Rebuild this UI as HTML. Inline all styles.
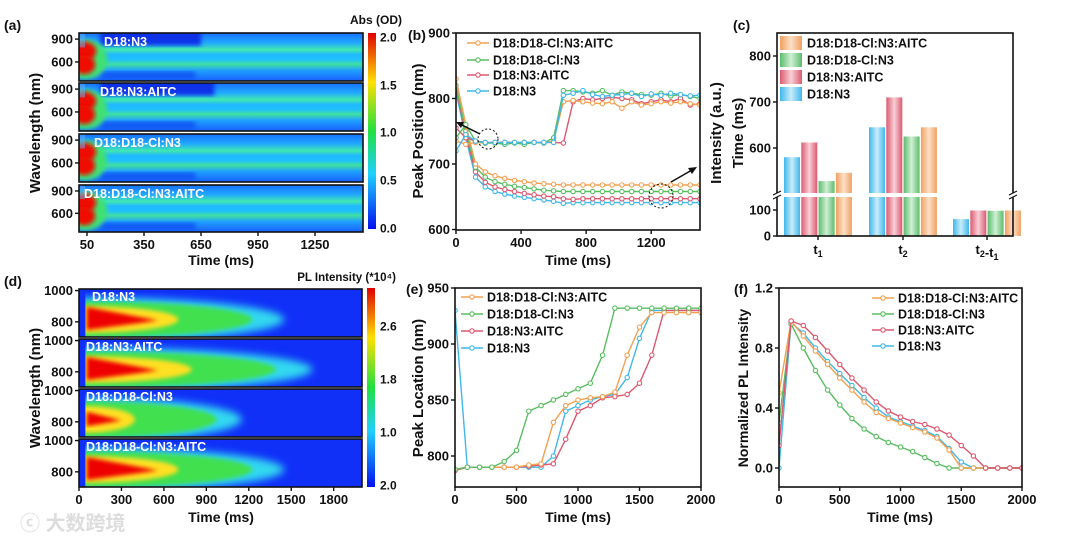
<!DOCTYPE html>
<html><head><meta charset="utf-8"><style>
html,body{margin:0;padding:0;background:#fff}
svg{display:block;font-family:"Liberation Sans",Arial,sans-serif;font-weight:bold}
</style></head><body>
<svg id="fig" width="1080" height="543" viewBox="0 0 1080 543" xmlns="http://www.w3.org/2000/svg">
<defs>
<linearGradient id="jet" x1="0" y1="0" x2="0" y2="1">
<stop offset="0" stop-color="#e00000"/><stop offset="0.25" stop-color="#ffe000"/><stop offset="0.5" stop-color="#20e040"/><stop offset="0.72" stop-color="#20d0ff"/><stop offset="1" stop-color="#0010f0"/></linearGradient>
<linearGradient id="absband" x1="0" y1="0" x2="0" y2="1">
<stop offset="0" stop-color="#1870ff"/><stop offset="0.2" stop-color="#20a8ff"/><stop offset="0.35" stop-color="#40e8b0"/><stop offset="0.45" stop-color="#20b8ff"/><stop offset="0.55" stop-color="#20c0ff"/><stop offset="0.65" stop-color="#40e0a0"/><stop offset="0.78" stop-color="#20a0ff"/><stop offset="1" stop-color="#1860ff"/></linearGradient>
<linearGradient id="barblue" x1="0" x2="1"><stop offset="0" stop-color="#40b8ec"/><stop offset="0.5" stop-color="#c8ecfa"/><stop offset="1" stop-color="#40b8ec"/></linearGradient>
<linearGradient id="barred" x1="0" x2="1"><stop offset="0" stop-color="#dc5a70"/><stop offset="0.5" stop-color="#f8d0d8"/><stop offset="1" stop-color="#dc5a70"/></linearGradient>
<linearGradient id="bargreen" x1="0" x2="1"><stop offset="0" stop-color="#5cbc6c"/><stop offset="0.5" stop-color="#d0f0d4"/><stop offset="1" stop-color="#5cbc6c"/></linearGradient>
<linearGradient id="barorange" x1="0" x2="1"><stop offset="0" stop-color="#f0a060"/><stop offset="0.5" stop-color="#fce0c8"/><stop offset="1" stop-color="#f0a060"/></linearGradient>
<filter id="blur2"><feGaussianBlur stdDeviation="2"/></filter>
<filter id="blur4"><feGaussianBlur stdDeviation="4"/></filter>
</defs>
<g id="root"></g>
<text x="20" y="530" font-size="20" fill="#ddd" style="font-family:'Liberation Sans','Noto Sans CJK SC',sans-serif">ⓒ 大数跨境</text>
</svg>
<script>
// ---------- data ----------
const bTimes=[0,60,120,180,240,300,360,420,480,540,600,660,720,780,840,900,960,1020,1080,1140,1200,1260,1320,1380,1440,1500];
const bUpN3=[720,745,735,733,733,733,733,733,733,733,733,805,808,812,806,803,805,806,808,803,807,805,808,806,804,805];
const bUpCl=[740,760,735,732,732,730,732,730,733,732,740,812,812,810,808,812,805,810,808,806,805,808,804,806,803,800];
const bUpClAITC=[735,730,733,732,733,733,733,733,733,732,735,795,797,795,793,792,795,785,795,790,792,795,793,795,792,790];
const bUpAITC=[755,740,735,733,733,733,733,733,733,733,733,732,795,800,798,800,802,800,798,792,795,798,795,800,790,792];
const bLoClAITC=[830,760,700,688,682,678,675,673,671,670,669,668,668,668,668,668,668,668,668,668,668,668,668,668,668,668];
const bLoCl=[820,750,695,680,673,669,666,664,662,660,659,658,658,658,658,658,658,658,658,658,658,658,658,658,658,658];
const bLoAITC=[815,745,688,672,665,661,658,655,653,651,650,647,646,647,647,647,647,647,647,647,647,647,647,647,647,647];
const bLoN3=[810,740,680,665,658,654,651,649,647,645,643,640,641,641,641,641,641,641,641,641,641,641,641,641,641,641];

const cCats=['t1','t2','t2-t1'];
const cN3=[580,645,65];
const cAITC=[612,710,98];
const cCl=[528,625,97];
const cClAITC=[546,645,98];

const eTimes=[0,100,200,300,400,500,600,700,800,900,1000,1100,1200,1300,1400,1500,1600,1700,1800,1900,2000];
const eClAITC=[788,790,790,790,790,790,792,793,830,845,850,852,853,857,890,915,928,928,928,928,928];
const eCl=[788,790,790,790,795,805,840,845,850,855,860,865,890,932,932,932,932,932,932,932,932];
const eAITC=[787,790,790,790,790,790,791,792,793,815,840,845,852,853,855,865,890,930,930,930,930];
const eN3=[930,790,790,790,790,790,790,790,800,840,845,850,853,855,870,905,930,930,930,930,930];

const fTimes=[0,100,200,300,400,500,600,700,800,900,1000,1100,1200,1300,1400,1500,1600,1700,1800,1900,2000];
const fClAITC=[0.5,0.98,0.88,0.78,0.69,0.6,0.52,0.44,0.37,0.33,0.3,0.27,0.24,0.2,0.12,0.0,0,0,0,0,0];
const fCl=[0.3,0.96,0.8,0.65,0.52,0.42,0.33,0.26,0.21,0.17,0.14,0.11,0.07,0.03,0,0,0,0,0,0,0];
const fAITC=[0.15,0.98,0.95,0.87,0.78,0.69,0.6,0.52,0.44,0.38,0.34,0.31,0.29,0.26,0.22,0.15,0.08,0,0,0,0];
const fN3=[0.0,0.97,0.9,0.8,0.71,0.63,0.55,0.47,0.4,0.34,0.31,0.28,0.25,0.21,0.13,0.04,0,0,0,0,0];

const sampleNames=['D18:D18-Cl:N3:AITC','D18:D18-Cl:N3','D18:N3:AITC','D18:N3'];
const COL={o:'#f3a050',g:'#58be60',r:'#dc5870',b:'#40b8e8'};

// ---------- helpers ----------
const NS='http://www.w3.org/2000/svg';
const root=document.getElementById('root');
function mk(tag,attrs,parent){const e=document.createElementNS(NS,tag);for(const k in attrs)e.setAttribute(k,attrs[k]);(parent||root).appendChild(e);return e;}
function txt(x,y,s,size,anchor,extra){const t=mk('text',Object.assign({x:x,y:y,'font-size':size,'text-anchor':anchor||'middle',fill:'#111'},extra||{}));t.textContent=s;return t;}
function lin(d0,d1,p0,p1){return v=>p0+(v-d0)*(p1-p0)/(d1-d0);}

function frame(x0,y0,x1,y1,name){
  const r=mk('rect',{x:x0,y:y0,width:x1-x0,height:y1-y0,fill:'none',stroke:'#111','stroke-width':1.6});
  
  
}
function xTicks(vals,sx,y,name){
  vals.forEach(v=>{
    const l=mk('line',{x1:sx(v),x2:sx(v),y1:y,y2:y+4,stroke:'#111','stroke-width':1.4});
    
    
    const t=txt(sx(v),y+17,String(v),13);
    
    
  });
}
function yTicks(vals,sy,x,name,fmt){
  vals.forEach(v=>{
    const l=mk('line',{x1:x-4,x2:x,y1:sy(v),y2:sy(v),stroke:'#111','stroke-width':1.4});
    
    
    const t=txt(x-6,sy(v)+4.5,fmt?fmt(v):String(v),13,'end');
    
    
  });
}
function series(xs,ys,sx,sy,color,name,clipId){
  const g=mk('g',clipId?{'clip-path':'url(#'+clipId+')'}:{});
  
  
  const pts=xs.map((x,i)=>sx(x).toFixed(1)+','+sy(ys[i]).toFixed(1)).join(' ');
  const pl=mk('polyline',{points:pts,fill:'none',stroke:color,'stroke-width':1.4},g);
  
  
  xs.forEach((x,i)=>{
    const c=mk('circle',{cx:sx(x),cy:sy(ys[i]),r:2.2,fill:'#fff',stroke:color,'stroke-width':1.1},g);
    
    
  });
}
function clip(id,x0,y0,x1,y1){const cp=mk('clipPath',{id:id});mk('rect',{x:x0,y:y0,width:x1-x0,height:y1-y0},cp);}
function legendLine(x,y,color,label,name){
  const l=mk('line',{x1:x,x2:x+22,y1:y,y2:y,stroke:color,'stroke-width':1.4});
  
  
  const c=mk('circle',{cx:x+11,cy:y,r:2.2,fill:'#fff',stroke:color,'stroke-width':1.1});
  
  
  const t=txt(x+26,y+4.5,label,12.5,'start');
  
  
}
function panelLabel(x,y,s){const t=txt(x,y,s,14,'start');}
function rotTitle(x,y,s,name,size){const t=txt(x,y,s,size||14,'middle',{transform:'rotate(-90 '+x+' '+y+')'});return t;}

// ---------- panel a ----------
panelLabel(4,30,'(a)');
const aX=lin(0,1500,77.5,362.5);
const aSubs=[[33,81,'D18:N3',true],[83,131,'D18:N3:AITC',true],[134,182,'D18:D18-Cl:N3',false],[185,232,'D18:D18-Cl:N3:AITC',false]];
aSubs.forEach((s,i)=>{
  const [y0,y1,lab,dark]=s;
  clip('ca'+i,79,y0,363,y1);
  const g=mk('g',{'clip-path':'url(#ca'+i+')'});
  
  
  mk('rect',{x:79,y:y0,width:284,height:y1-y0,fill:'url(#absband)'},g);
  const h=y1-y0;
  if(dark){mk('rect',{x:aX(120),y:y0-4,width:aX(i?720:650)-aX(120),height:h*0.26+4,fill:'#1030e8',filter:'url(#blur2)'},g);}
  mk('rect',{x:aX(120),y:y0+h*0.8,width:aX(620)-aX(120),height:h*0.16,fill:'#1050f0',filter:'url(#blur2)',opacity:0.8},g);
  mk('ellipse',{cx:aX(40),cy:y0+h*0.55,rx:22,ry:h*0.42,fill:'#40e070',filter:'url(#blur2)'},g);
  mk('ellipse',{cx:aX(35),cy:y0+h*0.38,rx:12,ry:h*0.2,fill:'#ee1000',filter:'url(#blur2)'},g);
  mk('ellipse',{cx:aX(35),cy:y0+h*0.66,rx:11,ry:h*0.2,fill:'#ee1000',filter:'url(#blur2)'},g);
  mk('rect',{x:79,y:y0,width:6,height:h*0.3,fill:'#60b0ff',opacity:0.5},g);
  frame(79,y0,363,y1,'abs-subpanel-frame-'+(i+1));
  const sy=lin(350,980,y1,y0);
  yTicks([600,900],sy,79,'abs-y-axis-'+(i+1));
  const t=txt(i==3?84:(i==2?94:(i==1?100:104)),y0+13,lab,12.5,'start',{fill:'#fff'});
  
  
});
xTicks([50,350,650,950,1250],aX,232,'abs-x-axis');
rotTitle(40,133,'Wavelength (nm)','abs-y-axis-title',15);
{const t=txt(221,265,'Time (ms)',14);}
{const r=mk('rect',{x:368,y:33,width:8,height:196,fill:'url(#jet)'});}
[['2.0',37],['1.5',85],['1.0',132],['0.5',180],['0.0',228]].forEach(p=>{const t=txt(380,p[1]+4.5,p[0],12,'start');});
{const t=txt(402,24,'Abs (OD)',12,'end');}

// ---------- panel b ----------
panelLabel(408,40,'(b)');
const bX=lin(0,1500,456,700), bY=lin(600,900,229.5,33);
clip('cb',456,33,700,230);
series(bTimes,bLoN3,bX,bY,COL.b,'b-lower-d18-n3','cb');
series(bTimes,bLoAITC,bX,bY,COL.r,'b-lower-d18-n3-aitc','cb');
series(bTimes,bLoCl,bX,bY,COL.g,'b-lower-d18-d18cl-n3','cb');
series(bTimes,bLoClAITC,bX,bY,COL.o,'b-lower-d18-d18cl-n3-aitc','cb');
series(bTimes,bUpAITC,bX,bY,COL.r,'b-upper-d18-n3-aitc','cb');
series(bTimes,bUpClAITC,bX,bY,COL.o,'b-upper-d18-d18cl-n3-aitc','cb');
series(bTimes,bUpCl,bX,bY,COL.g,'b-upper-d18-d18cl-n3','cb');
series(bTimes,bUpN3,bX,bY,COL.b,'b-upper-d18-n3','cb');
frame(456,33,700,230,'b-plot-frame');
xTicks([0,400,800,1200],bX,230,'b-x-axis');
yTicks([600,700,800,900],bY,456,'b-y-axis');
rotTitle(423,131,'Peak Position (nm)','b-y-axis-title',15);
rotTitle(721,133,'Intensity (a.u.)','b-right-axis-title',15);
{const t=txt(578,265,'Time (ms)',14);}
legendLine(467,43,COL.o,sampleNames[0],'b-legend-d18-d18cl-n3-aitc');
legendLine(467,60,COL.g,sampleNames[1],'b-legend-d18-d18cl-n3');
legendLine(467,75,COL.r,sampleNames[2],'b-legend-d18-n3-aitc');
legendLine(467,91,COL.b,sampleNames[3],'b-legend-d18-n3');
{const c=mk('circle',{cx:488,cy:139,r:10,fill:'none',stroke:'#111','stroke-dasharray':'2,2'});
 const a=mk('line',{x1:480,y1:134,x2:460,y2:124,stroke:'#111','stroke-width':1.5});
 const h=mk('polygon',{points:'456,122 464,122 461,128',fill:'#111'});
 const c2=mk('circle',{cx:661,cy:196,r:12,fill:'none',stroke:'#111','stroke-dasharray':'2,2'});
 const a2=mk('line',{x1:671,y1:182,x2:692,y2:170,stroke:'#111','stroke-width':1.5});
 const h2=mk('polygon',{points:'697,167 688,168 692,174',fill:'#111'});}

// ---------- panel c ----------
panelLabel(733,30,'(c)');
const cUp=lin(600,800,148,56), cLo=lin(0,100,236,210);
const cBreak=195;
function cY(v){return v>150?cUp(v):cLo(v);}
const cXc=[818,903,987];
const cSeries=[[cN3,'url(#barblue)','d18-n3'],[cAITC,'url(#barred)','d18-n3-aitc'],[cCl,'url(#bargreen)','d18-d18cl-n3'],[cClAITC,'url(#barorange)','d18-d18cl-n3-aitc']];
cSeries.forEach((s,j)=>{
  s[0].forEach((v,i)=>{
    const x=cXc[i]-34+j*17.3;
    const y=cY(v);
    const r=mk('rect',{x:x,y:y,width:16,height:236-y,fill:s[1]});
    
    
  });
});
{const r=mk('rect',{x:776,y:cBreak-2,width:240,height:4,fill:'#fff'});}
frame(777,33,1013,236,'c-plot-frame');
{const r=mk('rect',{x:774,y:cBreak-2,width:8,height:4,fill:'#fff'});
 const r2=mk('rect',{x:1009,y:cBreak-2,width:8,height:4,fill:'#fff'});
 [[777,cBreak-2],[777,cBreak+2],[1013,cBreak-2],[1013,cBreak+2]].forEach(p=>{const l=mk('line',{x1:p[0]-4,y1:p[1]+2,x2:p[0]+4,y2:p[1]-2,stroke:'#111','stroke-width':1.2});});}
yTicks([600,700,800],cUp,777,'c-y-axis-upper');
yTicks([0,100],cLo,777,'c-y-axis-lower');
cCats.forEach((c,i)=>{
  const l=mk('line',{x1:cXc[i],x2:cXc[i],y1:236,y2:240,stroke:'#111','stroke-width':1.4});
  
  
  const t=mk('text',{x:cXc[i],y:254,'font-size':13,'text-anchor':'middle',fill:'#111'});
  
  
  const parts=c.split('-');
  parts.forEach((p,k)=>{
    const a=document.createElementNS(NS,'tspan');a.textContent=(k?'-':'')+p[0];t.appendChild(a);
    const b=document.createElementNS(NS,'tspan');b.textContent=p[1];b.setAttribute('font-size','9');b.setAttribute('dy','3');t.appendChild(b);
    const z=document.createElementNS(NS,'tspan');z.setAttribute('dy','-3');z.textContent='';t.appendChild(z);
  });
});
rotTitle(743,133,'Time (ms)','c-y-axis-title',15);
[['url(#barorange)',sampleNames[0],43],['url(#bargreen)',sampleNames[1],60],['url(#barred)',sampleNames[2],77],['url(#barblue)',sampleNames[3],94]].forEach((p,i)=>{
  const r=mk('rect',{x:780,y:p[2]-7,width:22,height:14,fill:p[0]});
  
  
  const t=txt(807,p[2]+4.5,p[1],12.5,'start');
  
  
});

// ---------- panel d ----------
panelLabel(4,286,'(d)');
const dX=lin(0,2000,79,362);
const dSubs=[[289,337,'D18:N3',1450],[339,387,'D18:N3:AITC',1650],[389,437,'D18:D18-Cl:N3',1150],[439,487,'D18:D18-Cl:N3:AITC',1450]];
dSubs.forEach((s,i)=>{
  const [y0,y1,lab,end]=s;
  clip('cd'+i,79,y0,362,y1);
  const g=mk('g',{'clip-path':'url(#cd'+i+')'});
  
  
  mk('rect',{x:79,y:y0,width:283,height:y1-y0,fill:'#1030f8'},g);
  const sy=lin(703,1010,y1,y0);
  const cy=sy(815), w=dX(end)-dX(40), h=y1-y0;
  mk('ellipse',{cx:dX(40),cy:cy,rx:w,ry:h*0.46,fill:'#30d8f0',filter:'url(#blur4)'},g);
  mk('ellipse',{cx:dX(40),cy:cy,rx:w*0.84,ry:h*0.38,fill:'#40e050',filter:'url(#blur2)'},g);
  mk('ellipse',{cx:dX(40),cy:cy,rx:w*(i==2?0.32:0.47),ry:h*0.28,fill:'#ffe020',filter:'url(#blur2)'},g);
  mk('path',{d:'M'+dX(55)+','+(cy-h*(i==2?0.16:0.26))+' L'+dX(i==2?300:560)+','+(cy+h*0.02)+' L'+dX(55)+','+(cy+h*(i==2?0.14:0.22))+' Z',fill:'#ee0000',filter:'url(#blur2)'},g);
  mk('rect',{x:79,y:y0,width:dX(45)-79,height:h,fill:'#1030f8'},g);
  frame(79,y0,362,y1,'pl-subpanel-frame-'+(i+1));
  yTicks([800,1000],sy,79,'pl-y-axis-'+(i+1));
  const t=txt(i==0?92:86,y0+12,lab,12.5,'start',{fill:'#fff'});
  
  
});
xTicks([0,300,600,900,1200,1500,1800],dX,487,'pl-x-axis');
rotTitle(40,388,'Wavelength (nm)','pl-y-axis-title',15);
{const t=txt(221,522,'Time (ms)',14);}
{const r=mk('rect',{x:367,y:288,width:8,height:199,fill:'url(#jet)'});}
[['2.6',326],['1.8',379],['1.0',432],['2.0',485]].forEach(p=>{const t=txt(380,p[1]+4.5,p[0],12,'start');});
{const t=txt(396,281,'PL Intensity (*10⁴)',11.5,'end');}

// ---------- panel e ----------
panelLabel(406,294,'(e)');
const eX=lin(0,2000,455,701), eY=lin(800,950,456,288);
clip('ce',455,288,701,487);
series(eTimes,eN3,eX,eY,COL.b,'e-d18-n3','ce');
series(eTimes,eAITC,eX,eY,COL.r,'e-d18-n3-aitc','ce');
series(eTimes,eClAITC,eX,eY,COL.o,'e-d18-d18cl-n3-aitc','ce');
series(eTimes,eCl,eX,eY,COL.g,'e-d18-d18cl-n3','ce');
frame(455,288,701,487,'e-plot-frame');
xTicks([0,500,1000,1500,2000],eX,487,'e-x-axis');
yTicks([800,850,900,950],eY,455,'e-y-axis');
rotTitle(423,388,'Peak Location (nm)','e-y-axis-title',15);
{const t=txt(578,522,'Time (ms)',14);}
legendLine(461,297,COL.o,sampleNames[0],'e-legend-d18-d18cl-n3-aitc');
legendLine(461,314,COL.g,sampleNames[1],'e-legend-d18-d18cl-n3');
legendLine(461,331,COL.r,sampleNames[2],'e-legend-d18-n3-aitc');
legendLine(461,348,COL.b,sampleNames[3],'e-legend-d18-n3');

// ---------- panel f ----------
panelLabel(734,294,'(f)');
const fX=lin(0,2000,779,1022), fY=lin(0,1.2,468,288);
clip('cf',779,288,1022,487);
series(fTimes,fN3,fX,fY,COL.b,'f-d18-n3','cf');
series(fTimes,fCl,fX,fY,COL.g,'f-d18-d18cl-n3','cf');
series(fTimes,fClAITC,fX,fY,COL.o,'f-d18-d18cl-n3-aitc','cf');
series(fTimes,fAITC,fX,fY,COL.r,'f-d18-n3-aitc','cf');
frame(779,288,1022,487,'f-plot-frame');
xTicks([0,500,1000,1500,2000],fX,487,'f-x-axis');
yTicks([0,0.4,0.8,1.2],fY,779,'f-y-axis',v=>v.toFixed(1));
rotTitle(748,388,'Normalized PL Intensity','f-y-axis-title',14);
{const t=txt(900,522,'Time (ms)',14);}
legendLine(872,298,COL.o,sampleNames[0],'f-legend-d18-d18cl-n3-aitc');
legendLine(872,314,COL.g,sampleNames[1],'f-legend-d18-d18cl-n3');
legendLine(872,330,COL.r,sampleNames[2],'f-legend-d18-n3-aitc');
legendLine(872,346,COL.b,sampleNames[3],'f-legend-d18-n3');
</script>
</body></html>
